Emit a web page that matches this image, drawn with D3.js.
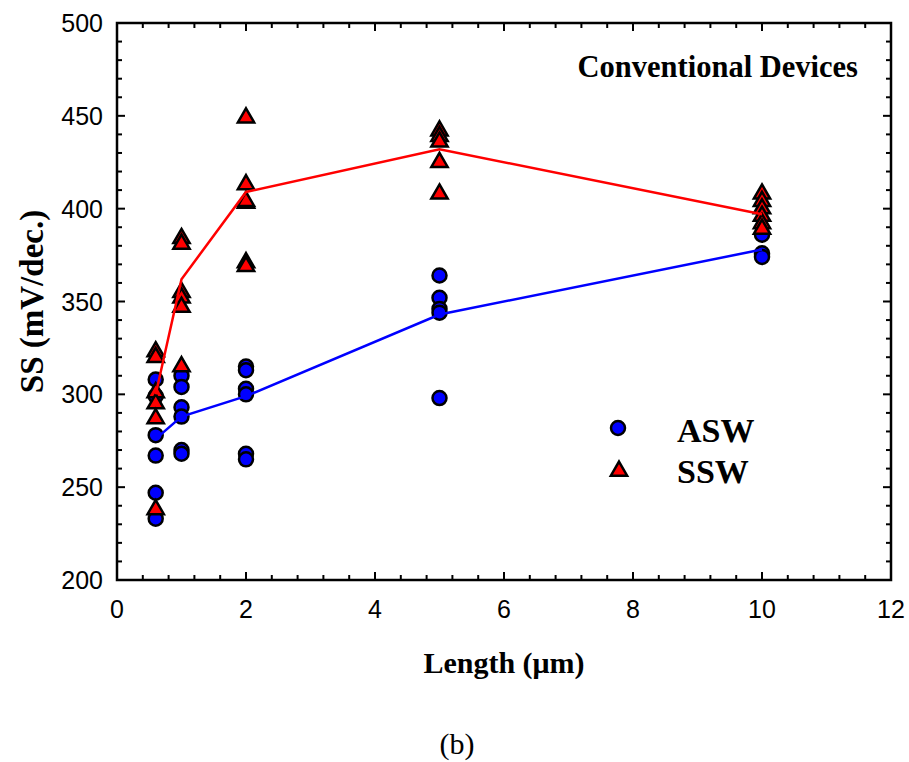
<!DOCTYPE html>
<html>
<head>
<meta charset="utf-8">
<script src="https://cdn.jsdelivr.net/npm/d3@7"></script>
<style>
  body { margin: 0; background: #fff; }
  svg { display: block; }
</style>
</head>
<body>
<script>
const width = 909;
const height = 762;

// measured points, channel length (um) vs subthreshold swing (mV/dec.)
const aswLength = [0.6, 0.6, 0.6, 0.6, 0.6, 0.6,
                   1, 1, 1, 1, 1, 1,
                   2, 2, 2, 2, 2, 2,
                   5, 5, 5, 5, 5,
                   10, 10, 10];
const aswSS = [308, 299, 278, 267, 247, 233,
               310, 304, 293, 288, 270, 268,
               315, 313, 303, 300, 268, 265,
               364, 352, 346, 344, 298,
               386, 376, 374];

const sswLength = [0.6, 0.6, 0.6, 0.6, 0.6, 0.6,
                   1, 1, 1, 1, 1, 1,
                   2, 2, 2, 2, 2, 2,
                   5, 5, 5, 5, 5,
                   10, 10, 10, 10, 10, 10];
const sswSS = [323, 320, 301, 295, 287, 238,
               384, 381, 355, 352, 347, 315,
               449, 413, 403, 404, 371, 369,
               442, 439, 436, 425, 408,
               408, 404, 400, 396, 392, 389];

// mean lines
const meanLength = [0.6, 1, 2, 5, 10];
const aswMean = [276, 288, 299, 343, 378];
const sswMean = [300, 362, 409, 432, 397];

const xTicks = [0, 2, 4, 6, 8, 10, 12];
const yTicks = [200, 250, 300, 350, 400, 450, 500];

const margin = {left: 117, right: 18, top: 23, bottom: 182};

const x = d3.scaleLinear().domain([0, 12]).range([margin.left, width - margin.right]);
const y = d3.scaleLinear().domain([200, 500]).range([height - margin.bottom, margin.top]);

const svg = d3.select('body')
  .append('svg')
  .attr('width', width)
  .attr('height', height);

const x0 = x(0), x1 = x(12), y0 = y(200), y1 = y(500);
const serif = 'Liberation Serif, Times New Roman, serif';

// minor / major ticks pointing inward on all four sides
const xMinor = d3.range(0, 12.01, 0.4);
const yMinor = d3.range(200, 500.1, 10);
const ticks = svg.append('g').attr('stroke', '#000').attr('stroke-width', 2);

xMinor.forEach(v => {
  const major = Math.abs(v / 2 - Math.round(v / 2)) < 1e-6;
  const len = major ? 8 : 5;
  ticks.append('line').attr('x1', x(v)).attr('x2', x(v)).attr('y1', y0).attr('y2', y0 - len);
  ticks.append('line').attr('x1', x(v)).attr('x2', x(v)).attr('y1', y1).attr('y2', y1 + len);
});
yMinor.forEach(v => {
  const major = v % 50 === 0;
  const len = major ? 8 : 5;
  ticks.append('line').attr('y1', y(v)).attr('y2', y(v)).attr('x1', x0).attr('x2', x0 + len);
  ticks.append('line').attr('y1', y(v)).attr('y2', y(v)).attr('x1', x1).attr('x2', x1 - len);
});

svg.append('rect')
  .attr('x', x0).attr('y', y1)
  .attr('width', x1 - x0).attr('height', y0 - y1)
  .attr('fill', 'none')
  .attr('stroke', '#000')
  .attr('stroke-width', 2.5);

// tick labels
svg.append('g')
  .attr('font-family', 'Liberation Sans, Arial, sans-serif')
  .attr('font-size', 25)
  .attr('text-anchor', 'middle')
  .selectAll('text')
  .data(xTicks)
  .join('text')
  .attr('x', d => x(d))
  .attr('y', y0 + 38)
  .text(d => d);

svg.append('g')
  .attr('font-family', 'Liberation Sans, Arial, sans-serif')
  .attr('font-size', 25)
  .attr('text-anchor', 'end')
  .selectAll('text')
  .data(yTicks)
  .join('text')
  .attr('x', x0 - 14)
  .attr('y', d => y(d) + 9)
  .text(d => d);

// axis titles
svg.append('text')
  .attr('x', (x0 + x1) / 2)
  .attr('y', 673)
  .attr('text-anchor', 'middle')
  .attr('font-family', serif)
  .attr('font-weight', 'bold')
  .attr('font-size', 30)
  .text('Length (\u03bcm)');

svg.append('text')
  .attr('transform', `translate(43,${(y0 + y1) / 2}) rotate(-90)`)
  .attr('text-anchor', 'middle')
  .attr('font-family', serif)
  .attr('font-weight', 'bold')
  .attr('font-size', 33)
  .text('SS (mV/dec.)');

svg.append('text')
  .attr('x', 457)
  .attr('y', 754)
  .attr('text-anchor', 'middle')
  .attr('font-family', serif)
  .attr('font-size', 30)
  .text('(b)');

svg.append('text')
  .attr('x', 858)
  .attr('y', 77)
  .attr('text-anchor', 'end')
  .attr('font-family', serif)
  .attr('font-weight', 'bold')
  .attr('font-size', 30.5)
  .text('Conventional Devices');

const triangle = d3.symbol().type(d3.symbolTriangle).size(115);

// markers
svg.append('g')
  .selectAll('circle')
  .data(aswSS.map((v, i) => [aswLength[i], v]))
  .join('circle')
  .attr('cx', d => x(d[0]))
  .attr('cy', d => y(d[1]))
  .attr('r', 7)
  .attr('fill', '#0000ff')
  .attr('stroke', '#000')
  .attr('stroke-width', 2.5);

svg.append('g')
  .selectAll('path')
  .data(sswSS.map((v, i) => [sswLength[i], v]))
  .join('path')
  .attr('transform', d => `translate(${x(d[0])},${y(d[1])})`)
  .attr('d', triangle)
  .attr('fill', '#ff0000')
  .attr('stroke', '#000')
  .attr('stroke-width', 2.5);

// mean lines on top
const line = d3.line().x(d => x(d[0])).y(d => y(d[1]));

svg.append('path')
  .attr('d', line(meanLength.map((v, i) => [v, aswMean[i]])))
  .attr('fill', 'none')
  .attr('stroke', '#0000ff')
  .attr('stroke-width', 2.5);

svg.append('path')
  .attr('d', line(meanLength.map((v, i) => [v, sswMean[i]])))
  .attr('fill', 'none')
  .attr('stroke', '#ff0000')
  .attr('stroke-width', 2.5);

// legend
const legend = svg.append('g')
  .attr('font-family', serif)
  .attr('font-weight', 'bold')
  .attr('font-size', 34);

legend.append('circle')
  .attr('cx', 618).attr('cy', 428).attr('r', 7)
  .attr('fill', '#0000ff').attr('stroke', '#000').attr('stroke-width', 2.5);
legend.append('text').attr('x', 677).attr('y', 442).text('ASW');

legend.append('path')
  .attr('transform', 'translate(619,471)')
  .attr('d', triangle)
  .attr('fill', '#ff0000').attr('stroke', '#000').attr('stroke-width', 2.5);
legend.append('text').attr('x', 677).attr('y', 483).text('SSW');
</script>
</body>
</html>
